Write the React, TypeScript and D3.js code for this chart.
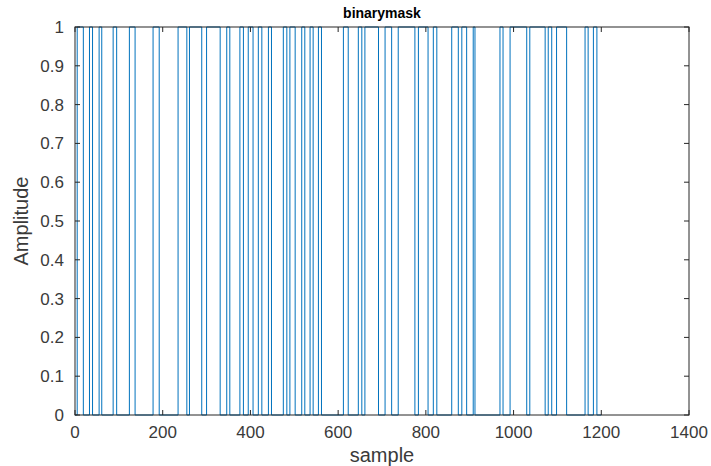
import React from "react";
import * as d3 from "d3";

const title = "binarymask";
const xLabel = "sample";
const yLabel = "Amplitude";
const xTicks = [0, 200, 400, 600, 800, 1000, 1200, 1400];
const yTicks = [0, 0.1, 0.2, 0.3, 0.4, 0.5, 0.6, 0.7, 0.8, 0.9, 1];
// sample indices where the mask toggles (starting at 0)
const switchSamples = [
  5, 19, 33, 40, 55, 61, 87, 95, 124, 137, 178, 192, 235, 255, 261, 289, 300, 331,
  346, 353, 376, 384, 395, 406, 418, 426, 441, 448, 475, 483, 490, 502, 517, 524,
  536, 543, 555, 562, 612, 623, 646, 654, 661, 692, 707, 722, 737, 775, 783, 805,
  817, 825, 859, 874, 882, 893, 908, 912, 969, 976, 992, 1030, 1037, 1072, 1079,
  1087, 1098, 1121, 1163, 1170, 1182, 1190,
];
const startValue = 0;
const firstSample = 0;
const lastSample = 1200;

export default function App() {
  const W = 711, H = 466;
  const L = 75, R = 689, T = 27, B = 415;
  const x = d3.scaleLinear().domain([0, 1400]).range([L, R]);
  const y = d3.scaleLinear().domain([0, 1]).range([B, T]);

  const pts: [number, number][] = [];
  let v = startValue;
  pts.push([firstSample, v]);
  for (const s of switchSamples) {
    pts.push([s, v]);
    v = 1 - v;
    pts.push([s, v]);
  }
  pts.push([lastSample, v]);

  const line = d3.line<[number, number]>().x((d) => x(d[0])).y((d) => y(d[1]));
  const font = "'Liberation Sans', Arial, Helvetica, sans-serif";
  const axisColor = "#262626";
  const labelColor = "#3a3a3a";
  const tl = 5;

  return (
    <svg width={W} height={H} style={{ position: "fixed", left: 0, top: 0, background: "#fff" }} fontFamily={font}>
      <rect x={0} y={0} width={W} height={H} fill="#fff" />
      <path d={line(pts) || ""} fill="none" stroke="#0072BD" strokeWidth={1} />
      <rect x={L} y={T} width={R - L} height={B - T} fill="none" stroke={axisColor} strokeWidth={1} />
      {xTicks.map((t) => (
        <g key={"x" + t}>
          <line x1={x(t)} x2={x(t)} y1={B} y2={B - tl} stroke={axisColor} />
          <line x1={x(t)} x2={x(t)} y1={T} y2={T + tl} stroke={axisColor} />
          <text x={x(t)} y={B + 23} textAnchor="middle" fontSize={17} fill={labelColor}>{t}</text>
        </g>
      ))}
      {yTicks.map((t) => (
        <g key={"y" + t}>
          <line x1={L} x2={L + tl} y1={y(t)} y2={y(t)} stroke={axisColor} />
          <line x1={R} x2={R - tl} y1={y(t)} y2={y(t)} stroke={axisColor} />
          <text x={L - 11} y={y(t) + 6} textAnchor="end" fontSize={17} fill={labelColor}>{String(t)}</text>
        </g>
      ))}
      <text x={(L + R) / 2} y={18} textAnchor="middle" fontSize={14} fontWeight="bold" fill="#000">{title}</text>
      <text x={(L + R) / 2} y={462} textAnchor="middle" fontSize={20} fill={labelColor}>{xLabel}</text>
      <text transform={`translate(28,${(T + B) / 2}) rotate(-90)`} textAnchor="middle" fontSize={20} fill={labelColor}>{yLabel}</text>
    </svg>
  );
}
